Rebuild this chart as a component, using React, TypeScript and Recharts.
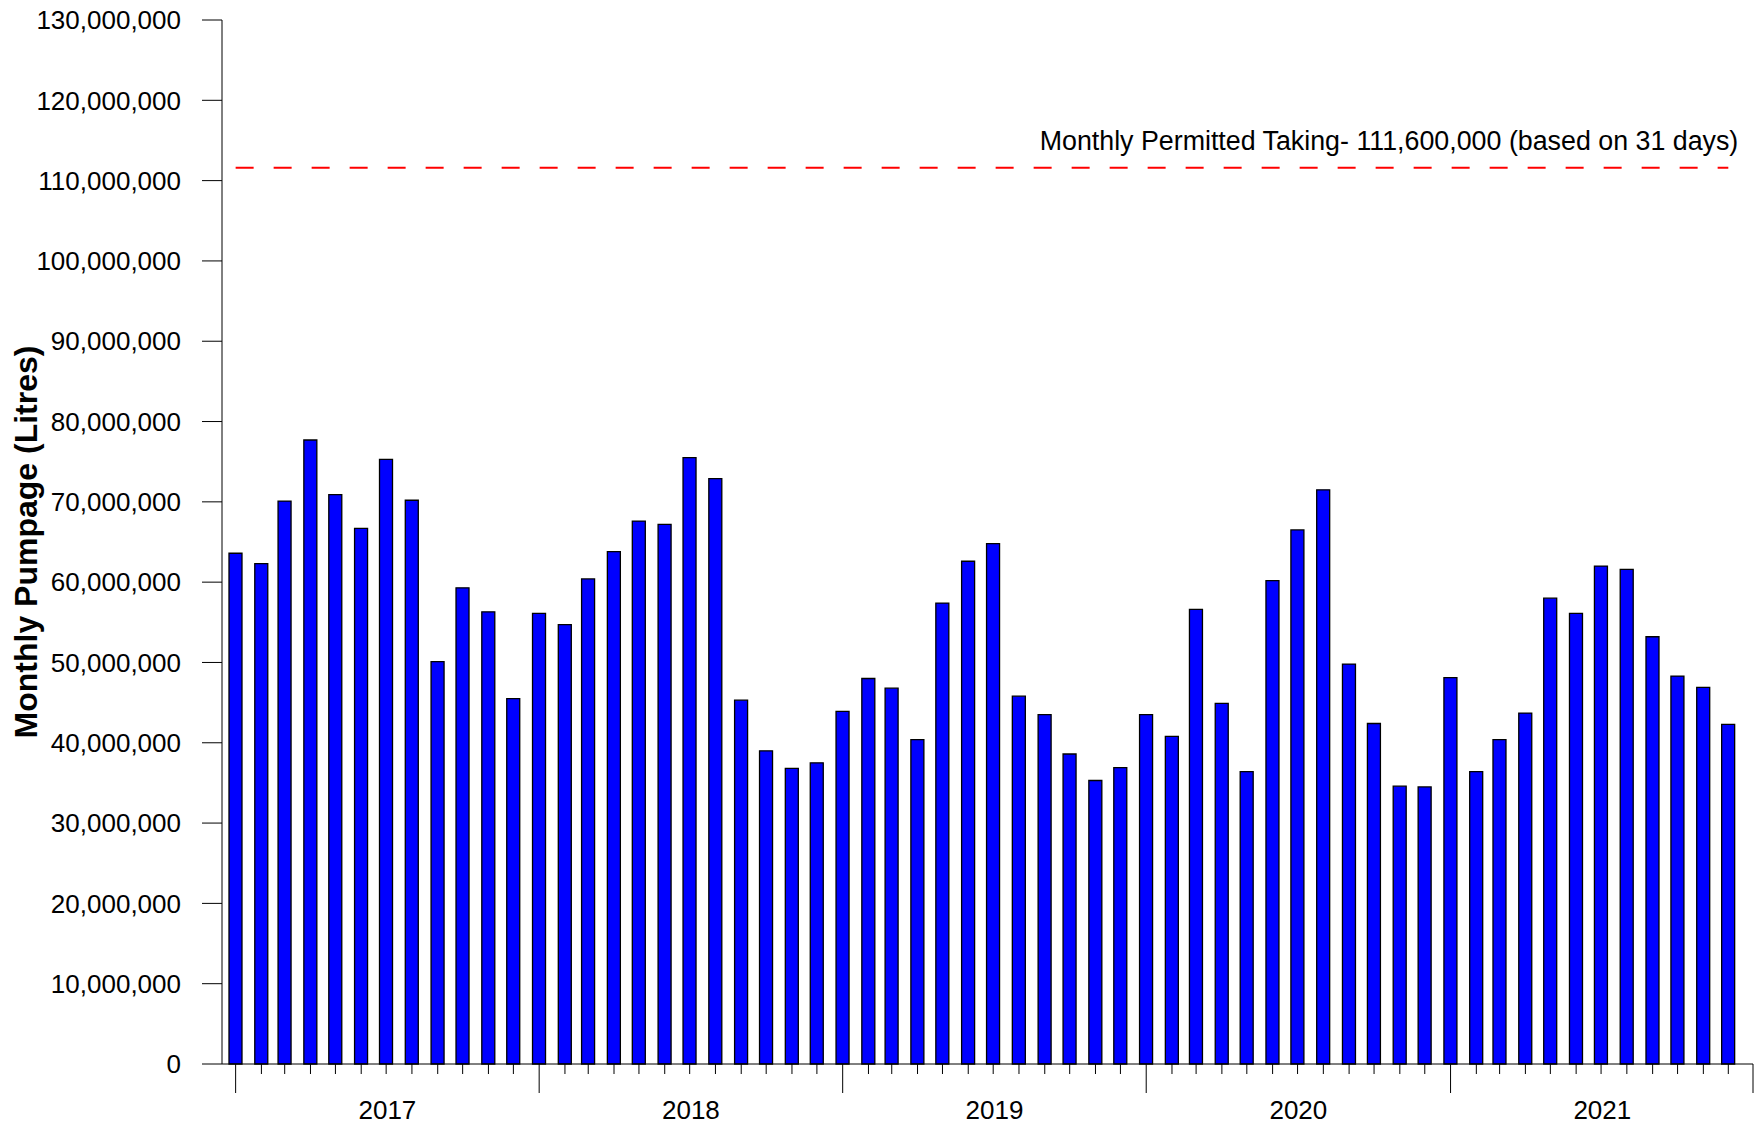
import { BarChart, Bar, XAxis, YAxis, ReferenceLine } from "recharts";

const years = [2017, 2018, 2019, 2020, 2021];

// monthly pumpage (litres), Jan..Dec
const pumpage2017 = [63600000, 62300000, 70100000, 77700000, 70900000, 66700000, 75300000, 70200000, 50100000, 59300000, 56300000, 45500000];
const pumpage2018 = [56100000, 54700000, 60400000, 63800000, 67600000, 67200000, 75500000, 72900000, 45300000, 39000000, 36800000, 37500000];
const pumpage2019 = [43900000, 48000000, 46800000, 40400000, 57400000, 62600000, 64800000, 45800000, 43500000, 38600000, 35300000, 36900000];
const pumpage2020 = [43500000, 40800000, 56600000, 44900000, 36400000, 60200000, 66500000, 71500000, 49800000, 42400000, 34600000, 34500000];
const pumpage2021 = [48100000, 36400000, 40400000, 43700000, 58000000, 56100000, 62000000, 61600000, 53200000, 48300000, 46900000, 42300000];
const pumpageByYear = [pumpage2017, pumpage2018, pumpage2019, pumpage2020, pumpage2021];

const yTicks = [0, 10000000, 20000000, 30000000, 40000000, 50000000, 60000000, 70000000, 80000000, 90000000, 100000000, 110000000, 120000000, 130000000];

const permittedTaking = 111600000;
const permittedLabel = "Monthly Permitted Taking- 111,600,000 (based on 31 days)";
const yTitle = "Monthly Pumpage (Litres)";

const FONT = "'Liberation Sans', Arial, sans-serif";

// x axis is a date axis: days since 1 Jan 2017
const origin = Date.UTC(2017, 0, 1);
const dayOf = (y: number, m: number) => (Date.UTC(y, m, 1) - origin) / 86400000;

const data = years.flatMap((yr, i) =>
  pumpageByYear[i].map((v, m) => ({ day: dayOf(yr, m), pumpage: v }))
);

const xDomain: [number, number] = [-16.4, 1824.7];
const yearStarts = years.map((y) => dayOf(y, 0));
const midYears = years.map((y) => (dayOf(y, 0) + dayOf(y + 1, 0)) / 2);
const xTicks = [...data.map((d) => d.day), ...midYears, xDomain[1]].sort((a, b) => a - b);

const XTick = ({ x, y, payload }: any) => {
  const v = payload.value;
  const yi = midYears.indexOf(v);
  if (yi >= 0) {
    return (
      <text x={x} y={y + 55} textAnchor="middle" fontSize={26} fill="#000" fontFamily={FONT}>
        {years[yi]}
      </text>
    );
  }
  const long = yearStarts.includes(v) || v === xDomain[1];
  return <line x1={x} y1={y} x2={x} y2={y + (long ? 29 : 10)} stroke="#000" strokeWidth={1} />;
};

const YTitle = (props: any) => {
  const vb = props.viewBox;
  const cx = vb.x + 26;
  const cy = vb.y + vb.height / 2;
  return (
    <text
      x={cx}
      y={cy}
      transform={`rotate(-90, ${cx}, ${cy})`}
      textAnchor="middle"
      dominantBaseline="central"
      fontSize={32}
      fontWeight="bold"
      fill="#000"
      fontFamily={FONT}
    >
      {yTitle}
    </text>
  );
};

const LimitLabel = (props: any) => {
  const vb = props.viewBox;
  return (
    <text x={vb.x + vb.width + 10} y={vb.y - 18} textAnchor="end" fontSize={26.8} fill="#000" fontFamily={FONT}>
      {permittedLabel}
    </text>
  );
};

const App = () => {
  return (
    <div style={{ position: "absolute", left: 0, top: 0, background: "#fff" }}>
      <BarChart width={1754} height={1127} data={data} margin={{ top: 20, right: 1, bottom: 0, left: 0 }}>
        <XAxis
          dataKey="day"
          type="number"
          domain={xDomain}
          allowDataOverflow
          ticks={xTicks}
          interval={0}
          tick={<XTick />}
          tickLine={false}
          tickSize={0}
          tickMargin={0}
          axisLine={{ stroke: "#000", strokeWidth: 1 }}
          height={63}
        />
        <YAxis
          domain={[0, 130000000]}
          ticks={yTicks}
          interval={0}
          tickFormatter={(v: number) => v.toLocaleString("en-US")}
          width={222}
          tickSize={20}
          tickMargin={21}
          tick={{ fontSize: 26, fill: "#000", fontFamily: FONT }}
          axisLine={{ stroke: "#000", strokeWidth: 1 }}
          tickLine={{ stroke: "#000", strokeWidth: 1 }}
          label={YTitle}
        />
        <ReferenceLine
          segment={[
            { x: data[0].day, y: permittedTaking },
            { x: data[data.length - 1].day, y: permittedTaking },
          ]}
          stroke="#ff0000"
          strokeWidth={2}
          strokeDasharray="18 20"
          label={LimitLabel}
        />
        <Bar
          dataKey="pumpage"
          fill="#0000ff"
          stroke="#000"
          strokeWidth={1.3}
          barSize={13}
          isAnimationActive={false}
        />
      </BarChart>
    </div>
  );
};

export default App;
